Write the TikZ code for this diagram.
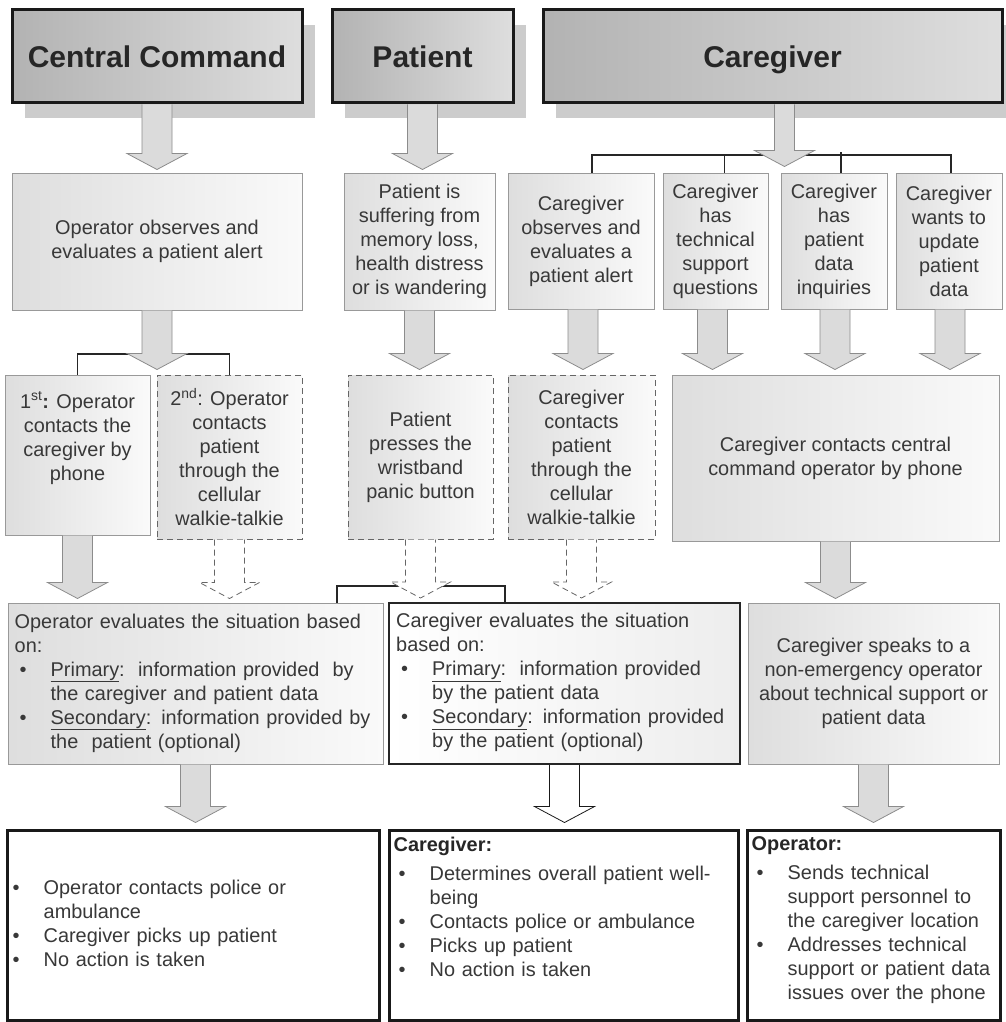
\documentclass[tikz,border=0pt]{standalone}
\usepackage{fontspec}
\setmainfont{Liberation Sans}
\usetikzlibrary{calc,shadows}

% bullet line with hanging indent
\newcommand{\itm}{\par\hangindent=36pt\hangafter=1\noindent\makebox[36pt][l]{\hspace{5pt}\textbullet}}

\tikzset{
  hdr/.style={draw=black!90, line width=3pt, left color=black!30, right color=black!13,
    minimum height=93, inner sep=0pt, text=black!85, font=\fontsize{30}{34}\selectfont\bfseries,
    text height=21.5pt, text depth=0pt,
    drop shadow={shadow xshift=13pt, shadow yshift=-15pt, fill=black!20, opacity=1}},
  cbox/.style={draw=black!40, line width=1pt, left color=black!13, right color=black!2,
    inner sep=0pt, align=center, text=black!78},
  dbox/.style={cbox, draw=black!60, dash pattern=on 6pt off 4pt},
  ebox/.style={draw=black!85, line width=2pt, left color=white, right color=black!7, inner sep=0pt},
  fbox/.style={draw=black!90, line width=3pt, fill=white, inner sep=0pt},
  txt/.style={anchor=north west, inner sep=0pt, text width=#1, text=black!78,
    execute at begin node={\raggedright\parindent=0pt}},
  brk/.style={draw=black!85, line width=1.3pt},
  fat/.style={draw=black!45, fill=black!14, line width=0.8pt,
    to path={let \p1=(\tikztostart), \p2=(\tikztotarget) in
      (\x1-#1,\y1) -- (\x1-#1,\y2+16pt) -- (\x1-30pt,\y2+16pt) -- (\x1,\y2)
      -- (\x1+30pt,\y2+16pt) -- (\x1+#1,\y2+16pt) -- (\x1+#1,\y1)}},
  fat/.default=15pt,
  dfat/.style={fat, draw=black!60, fill=white, dash pattern=on 6pt off 4pt},
  kfat/.style={fat, draw=black!90, fill=white},
}

\begin{document}
\begin{tikzpicture}[x=1pt, y=-1pt, font=\fontsize{19.9}{24}\selectfont]
  \useasboundingbox (0,0) rectangle (1005,1022);

  % headers
  \node[hdr, minimum width=290] (hCC) at (157,56.5) {Central Command};
  \node[hdr, minimum width=181] (hPat) at (422.5,56.5) {Patient};
  \node[hdr, minimum width=459] (hCG) at (772.5,56.5) {Caregiver};

  % first row
  \node[cbox, minimum width=290, minimum height=137] (opObs) at (157,241.5) {Operator observes and\\evaluates a patient alert};
  \node[cbox, minimum width=151, minimum height=137] (patSuf) at (419.5,241.5) {Patient is\\suffering from\\memory loss,\\health distress\\or is wandering};
  \node[cbox, minimum width=146, minimum height=136] (cgObs) at (581,241) {Caregiver\\observes and\\evaluates a\\patient alert};
  \node[cbox, minimum width=105, minimum height=136] (cgTech) at (715.5,241) {Caregiver\\has\\technical\\support\\questions};
  \node[cbox, minimum width=106, minimum height=136] (cgInq) at (834,241) {Caregiver\\has\\patient\\data\\inquiries};
  \node[cbox, minimum width=106, minimum height=136] (cgUpd) at (949,241) {Caregiver\\wants to\\update\\patient\\data};

  % second row
  \node[cbox, minimum width=145, minimum height=160] (opCg) at (77.5,455) {};
  \node[anchor=north, align=center, inner sep=0pt, text=black!78] (opCgTxt) at ([yshift=-17pt]opCg.north) {1\textsuperscript{st}\textbf{:} Operator\\contacts the\\caregiver by\\phone};
  \node[dbox, minimum width=145, minimum height=164] (opPat) at (229.5,457) {2\textsuperscript{nd}: Operator\\contacts\\patient\\through the\\cellular\\walkie-talkie};
  \node[dbox, minimum width=145, minimum height=164] (patBtn) at (420.5,457) {Patient\\presses the\\wristband\\panic button};
  \node[dbox, minimum width=147, minimum height=164] (cgWalk) at (581.5,457) {Caregiver\\contacts\\patient\\through the\\cellular\\walkie-talkie};
  \node[cbox, minimum width=327, minimum height=166] (cgPhone) at (835.5,458) {Caregiver contacts central\\command operator by phone};

  % third row
  \node[cbox, minimum width=375, minimum height=161] (opEval) at (195.5,683.5) {};
  \node[txt=372pt] (opEvalTxt) at ([shift={(7pt,-11pt)}]opEval.north west) {Operator evaluates the situation based\newline on:\itm \underline{Primary}:\ \ information provided\ \ by\newline the caregiver and patient data\itm \underline{Secondary}: information provided by\newline the\ \ patient (optional)\par};
  \node[ebox, minimum width=351, minimum height=161] (cgEval) at (564.5,683.5) {};
  \node[txt=345pt] (cgEvalTxt) at ([shift={(8pt,-11pt)}]cgEval.north west) {Caregiver evaluates the situation\newline based on:\itm \underline{Primary}:\ \ information provided\newline by the patient data\itm \underline{Secondary}: information provided\newline by the patient (optional)\par};
  \node[cbox, minimum width=251, minimum height=161] (cgSpeak) at (873.5,683.5) {Caregiver speaks to a\\non-emergency operator\\about technical support or\\patient data};

  % outcomes
  \node[fbox, minimum width=372, minimum height=190] (actOp) at (193,925) {};
  \node[txt=360pt] (actOpTxt) at ([shift={(2pt,-42pt)}]actOp.north west) {\itm Operator contacts police or\newline ambulance\itm Caregiver picks up patient\itm No action is taken\par};
  \node[fbox, minimum width=349, minimum height=190] (actCg) at (563.5,925) {};
  \node[txt=340pt] (actCgTxt) at ([shift={(6pt,-8pt)}]actCg.north west) {\textbf{\color{black!85}Caregiver:}\par\vspace{5pt}\itm Determines overall patient well-\newline being\itm Contacts police or ambulance\itm Picks up patient\itm No action is taken\par};
  \node[fbox, minimum width=253, minimum height=190] (actTech) at (873.5,925) {};
  \node[txt=245pt] (actTechTxt) at ([shift={(6pt,-8pt)}]actTech.north west) {\textbf{\color{black!85}Operator:}\par\vspace{5pt}\itm Sends technical\newline support personnel to\newline the caregiver location\itm Addresses technical\newline support or patient data\newline issues over the phone\par};

  % splitting lines
  \coordinate (cgBar) at (0,155);
  \coordinate (opBar) at (0,354);
  \draw[brk] ([xshift=11pt]cgObs.north) -- ([xshift=11pt]cgObs.north |- cgBar) -- ([xshift=2pt]cgUpd.north |- cgBar) -- ([xshift=2pt]cgUpd.north);
  \draw[brk] ([xshift=9pt]cgTech.north) -- ([xshift=9pt]cgTech.north |- cgBar);
  \draw[brk] ([xshift=7pt]cgInq.north) -- ++(0,-21);
  \draw[brk] (opCg.north) |- (opPat.north |- opBar) -- (opPat.north);
  \draw[brk] ([xshift=141.5pt]opEval.north) |- ([xshift=-59.5pt, yshift=16pt]cgEval.north) -- ([xshift=-59.5pt]cgEval.north);

  % block arrows
  \draw[fat] (hCC.south) to ([yshift=3pt]opObs.north);
  \draw[fat] (hPat.south) to ([yshift=3pt]patSuf.north);
  \draw[fat=10pt] ([xshift=12pt]hCG.south) to ([yshift=6pt]cgObs.north);
  \draw[fat] (opObs.south) to ([yshift=5pt]opCg.north);
  \draw[fat] (patSuf.south) to ([yshift=5pt]patBtn.north);
  \draw[fat] ([xshift=2pt]cgObs.south) to ([yshift=5pt]cgWalk.north);
  \draw[fat] ([xshift=-3pt]cgTech.south) to ([yshift=5pt]cgPhone.north);
  \draw[fat] ([xshift=1pt]cgInq.south) to ([yshift=5pt]cgPhone.north);
  \draw[fat] ([xshift=1pt]cgUpd.south) to ([yshift=5pt]cgPhone.north);
  \draw[fat] (opCg.south) to ([yshift=4pt]opEval.north);
  \draw[dfat] (opPat.south) to ([yshift=4pt]opEval.north);
  \draw[dfat] (patBtn.south) to ([yshift=4pt]cgEval.north);
  \draw[dfat] (cgWalk.south) to ([yshift=4pt]cgEval.north);
  \draw[fat] (cgPhone.south) to ([yshift=4pt]cgSpeak.north);
  \draw[fat] (opEval.south) to ([yshift=6pt]actOp.north);
  \draw[kfat] (cgEval.south) to ([yshift=6pt]actCg.north);
  \draw[fat] (cgSpeak.south) to ([yshift=6pt]actTech.north);
\end{tikzpicture}
\end{document}
